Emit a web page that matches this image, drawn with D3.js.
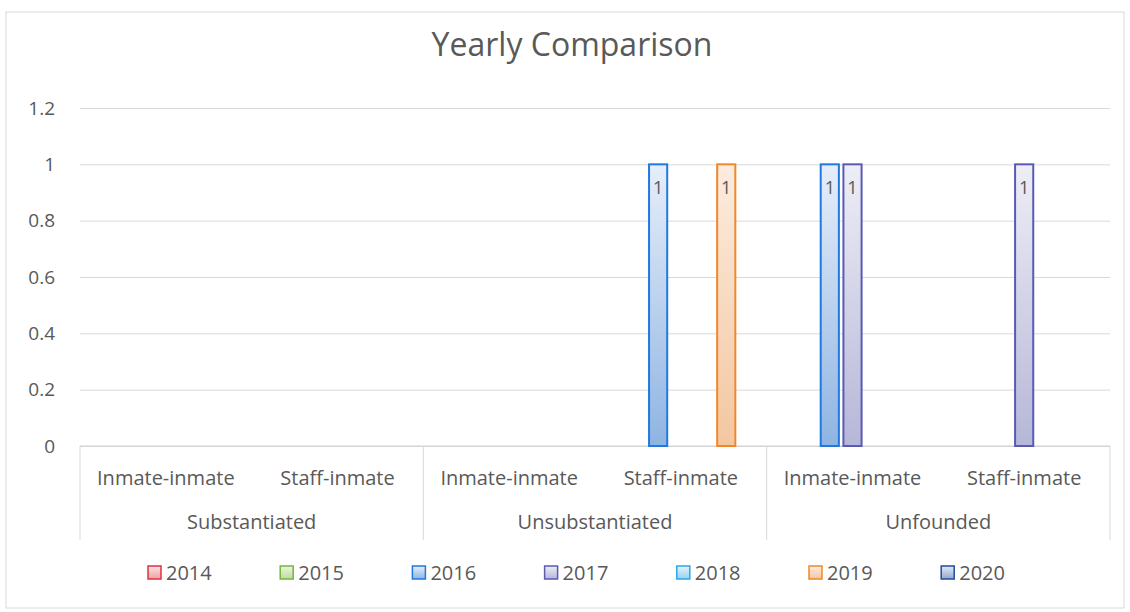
<!DOCTYPE html>
<html>
<head>
<meta charset="utf-8">
<script src="https://cdn.jsdelivr.net/npm/d3@7"></script>
<style>
  body { margin: 0; background: #fff; }
  text { font-family: "Open Sans", sans-serif; fill: #595959; }
</style>
</head>
<body>
<svg id="chart" width="1130" height="612"></svg>
<script>
// categories
const groups = ['Substantiated', 'Unsubstantiated', 'Unfounded'];
const subs = ['Inmate-inmate', 'Staff-inmate'];
const years = ['2014', '2015', '2016', '2017', '2018', '2019', '2020'];
const yTicks = [0, 0.2, 0.4, 0.6, 0.8, 1, 1.2];

// series values, one per group/sub pair (Subst II, Subst SI, Unsub II, Unsub SI, Unf II, Unf SI)
const v2014 = [0, 0, 0, 0, 0, 0];
const v2015 = [0, 0, 0, 0, 0, 0];
const v2016 = [0, 0, 0, 1, 1, 0];
const v2017 = [0, 0, 0, 0, 1, 1];
const v2018 = [0, 0, 0, 0, 0, 0];
const v2019 = [0, 0, 0, 1, 0, 0];
const v2020 = [0, 0, 0, 0, 0, 0];
const seriesValues = [v2014, v2015, v2016, v2017, v2018, v2019, v2020];

// colours per year: border, light top, darker bottom
const strokeColors = ['#e0323c', '#78b43c', '#1f7ae0', '#5a5ab4', '#28a8ec', '#f0882a', '#1e4d9e'];
const fillTop = ['#fbe4e5', '#eaf5df', '#e6eefa', '#eeeef6', '#e4f3fc', '#fcecdf', '#e3e9f4'];
const fillBottom = ['#f0a0a4', '#bcdca0', '#8fb4e2', '#b6b6d8', '#96d0f2', '#f3c7a0', '#92a8d0'];

const svg = d3.select('#chart');
const margin = { top: 108, right: 20, bottom: 166, left: 80 };
const innerWidth = 1110 - margin.left;
const y0 = 446;

// chart border
svg.append('rect')
  .attr('x', 6).attr('y', 12)
  .attr('width', 1118).attr('height', 596)
  .attr('fill', 'none')
  .attr('stroke', '#d9d9d9');

// gradients
const defs = svg.append('defs');
years.forEach((yr, i) => {
  const grad = defs.append('linearGradient')
    .attr('id', 'g' + yr)
    .attr('x1', 0).attr('y1', 0).attr('x2', 0).attr('y2', 1);
  grad.append('stop').attr('offset', '0%').attr('stop-color', fillTop[i]);
  grad.append('stop').attr('offset', '100%').attr('stop-color', fillBottom[i]);
});

// scales
const yScale = d3.scaleLinear().domain([0, 1.2]).range([y0, margin.top]);
const xGroup = d3.scaleBand().domain(groups).range([margin.left, 1110]);
const xSub = d3.scaleBand().domain(subs).range([0, xGroup.bandwidth()]);
const xYear = d3.scaleBand().domain(years).range([0, xSub.bandwidth()])
  .paddingInner(0.2).paddingOuter(0.38);

// title
svg.append('text')
  .attr('x', 572).attr('y', 56)
  .attr('text-anchor', 'middle')
  .style('font-size', '32px')
  .text('Yearly Comparison');

// gridlines + y labels
const yAxis = svg.append('g')
  .attr('transform', `translate(${margin.left},0)`)
  .call(d3.axisLeft(yScale).tickValues(yTicks).tickSize(-innerWidth).tickPadding(25).tickFormat(d3.format('')));
yAxis.select('.domain').remove();
yAxis.selectAll('.tick line').attr('stroke', '#d9d9d9');
yAxis.selectAll('.tick text').style('font-size', '19px').attr('fill', '#595959').style('font-family', '"Open Sans", sans-serif');

// category axis line + separators
svg.append('line')
  .attr('x1', margin.left).attr('x2', 1110)
  .attr('y1', y0).attr('y2', y0)
  .attr('stroke', '#d0d0d0');
const seps = groups.map(g => xGroup(g)).concat([1110]);
svg.selectAll('.sep').data(seps).enter().append('line')
  .attr('class', 'sep')
  .attr('x1', d => d).attr('x2', d => d)
  .attr('y1', y0).attr('y2', 540)
  .attr('stroke', '#d9d9d9');

// sub labels
groups.forEach(g => {
  subs.forEach(s => {
    svg.append('text')
      .attr('x', xGroup(g) + xSub(s) + xSub.bandwidth() / 2)
      .attr('y', 485)
      .attr('text-anchor', 'middle')
      .style('font-size', '20px')
      .text(s);
  });
  svg.append('text')
    .attr('x', xGroup(g) + xGroup.bandwidth() / 2)
    .attr('y', 529)
    .attr('text-anchor', 'middle')
    .style('font-size', '20px')
    .text(g);
});

// bars
const bars = [];
groups.forEach((g, gi) => {
  subs.forEach((s, si) => {
    years.forEach((yr, yi) => {
      const v = seriesValues[yi][gi * subs.length + si];
      if (v > 0) bars.push({ g, s, yr, yi, v });
    });
  });
});

svg.selectAll('.bar').data(bars).enter().append('rect')
  .attr('class', 'bar')
  .attr('x', d => xGroup(d.g) + xSub(d.s) + xYear(d.yr))
  .attr('y', d => yScale(d.v))
  .attr('width', xYear.bandwidth())
  .attr('height', d => y0 - yScale(d.v))
  .attr('fill', d => `url(#g${d.yr})`)
  .attr('stroke', d => strokeColors[d.yi])
  .attr('stroke-width', 2);

svg.selectAll('.lbl').data(bars).enter().append('text')
  .attr('class', 'lbl')
  .attr('x', d => xGroup(d.g) + xSub(d.s) + xYear(d.yr) + xYear.bandwidth() / 2)
  .attr('y', d => yScale(d.v) + 30)
  .attr('text-anchor', 'middle')
  .style('font-size', '18px')
  .text(d => d3.format('')(d.v));

// legend
const legend = svg.selectAll('.legend').data(years).enter().append('g')
  .attr('class', 'legend')
  .attr('transform', (d, i) => `translate(${148 + i * 132.2}, 573)`);
legend.append('rect')
  .attr('x', 0).attr('y', -7)
  .attr('width', 13).attr('height', 13)
  .attr('fill', d => `url(#g${d})`)
  .attr('stroke', (d, i) => strokeColors[i])
  .attr('stroke-width', 1.5);
legend.append('text')
  .attr('x', 18).attr('y', 7)
  .style('font-size', '20px')
  .text(d => d);
</script>
</body>
</html>
